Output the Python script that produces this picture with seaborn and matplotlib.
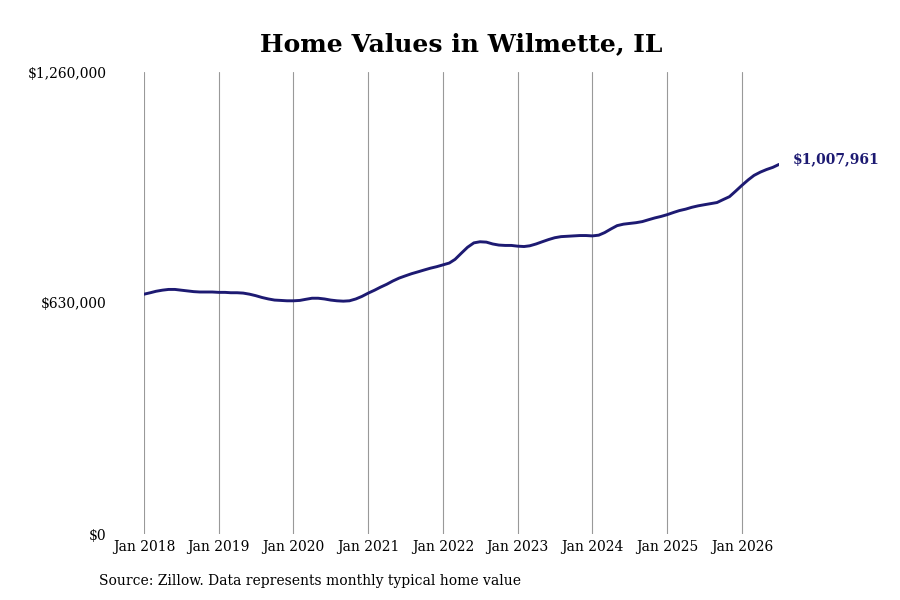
import numpy as np
import pandas as pd
import matplotlib
matplotlib.use("Agg")
import matplotlib.pyplot as plt
import matplotlib.dates as mdates
import matplotlib.ticker as mticker
import seaborn as sns


# monthly typical home value, Jan 2018 - Jul 2026
values_2018 = [654000, 658000, 662000, 665000, 667000, 667000, 665000, 663000, 661000, 660000, 660000, 660000]
values_2019 = [659000, 659000, 658000, 658000, 657000, 654000, 650000, 645000, 641000, 638000, 637000, 636000]
values_2020 = [636000, 637000, 640000, 643000, 643000, 641000, 638000, 636000, 635000, 636000, 641000, 648000]
values_2021 = [657000, 665000, 673000, 681000, 690000, 698000, 704000, 710000, 715000, 720000, 725000, 729000]
values_2022 = [734000, 739000, 749000, 766000, 782000, 794000, 797000, 796000, 791000, 788000, 787000, 787000]
values_2023 = [785000, 784000, 786000, 791000, 797000, 803000, 808000, 811000, 812000, 813000, 814000, 814000]
values_2024 = [813000, 815000, 822000, 832000, 841000, 845000, 847000, 849000, 852000, 857000, 862000, 866000]
values_2025 = [871000, 877000, 882000, 886000, 891000, 895000, 898000, 901000, 904000, 912000, 920000, 935000]
values_2026 = [951000, 966000, 978000, 987000, 994000, 1000000, 1007961]

home_values = (values_2018 + values_2019 + values_2020 + values_2021 + values_2022
               + values_2023 + values_2024 + values_2025 + values_2026)
dates = pd.date_range("2018-01-01", periods=len(home_values), freq="MS")

y_ticks = [0, 630000, 1260000]
x_years = list(range(2018, 2027))

df = pd.DataFrame({"date": dates, "value": home_values})

line_color = "#1d1a72"

sns.set_theme(style="white")
plt.rcParams["font.family"] = ["DejaVu Serif"]

fig = plt.figure(figsize=(9, 6), dpi=100)
ax = fig.add_axes([144 / 900, 66 / 600, (779 - 144) / 900, 462 / 600])

sns.lineplot(data=df, x="date", y="value", ax=ax, color=line_color, linewidth=2.1)

ax.set_xlim(dates[0], dates[-1])
ax.set_ylim(y_ticks[0], y_ticks[-1])
ax.set_yticks(y_ticks)
ax.yaxis.set_major_formatter(mticker.FuncFormatter(lambda v, p: f"${v:,.0f}"))
ax.set_xticks([pd.Timestamp(f"{y}-01-01") for y in x_years])
ax.xaxis.set_major_formatter(mdates.DateFormatter("%b %Y"))

ax.grid(axis="x", color="#999999", linewidth=0.8)
ax.grid(axis="y", visible=False)
for side in ["top", "right", "bottom", "left"]:
    ax.spines[side].set_visible(False)
ax.tick_params(axis="x", length=0, pad=4, labelsize=10, colors="black")
ax.tick_params(axis="y", length=0, pad=27, labelsize=10, colors="black")
ax.set_xlabel("")
ax.set_ylabel("")

ax.annotate(f"${home_values[-1]:,.0f}", xy=(dates[-1], home_values[-1]),
            xytext=(10, 4), textcoords="offset points", ha="left", va="center",
            fontsize=10, fontweight="bold", color=line_color, annotation_clip=False)

fig.text(461 / 900, 1 - 44 / 600, "Home Values in Wilmette, IL", ha="center", va="center",
         fontsize=18, fontweight="bold", color="black")
fig.text(99 / 900, 1 - 581 / 600, "Source: Zillow. Data represents monthly typical home value",
         ha="left", va="center", fontsize=10, color="black")

fig.savefig("out.png", dpi=100, facecolor="white")
